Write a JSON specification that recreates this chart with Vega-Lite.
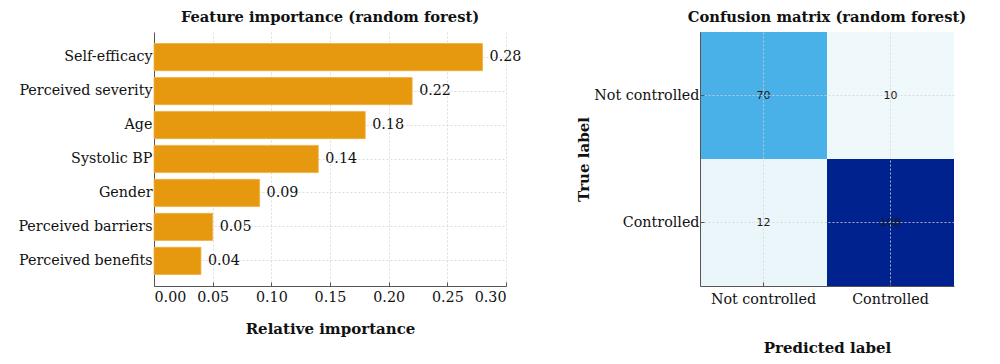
{
  "$schema": "https://vega.github.io/schema/vega-lite/v6.json",
  "padding": {"left": 17, "top": 10, "right": 5, "bottom": 5},
  "background": "white",
  "spacing": 194,
  "bounds": "flush",
  "config": {
    "view": {"stroke": null},
    "font": "DejaVu Serif",
    "title": {"font": "DejaVu Serif", "fontSize": 14.7, "fontWeight": "bold", "color": "#111", "offset": 7},
    "axis": {
      "labelFont": "DejaVu Serif", "labelFontSize": 14.3, "labelColor": "#111",
      "titleFont": "DejaVu Serif", "titleFontSize": 15, "titleFontWeight": "bold", "titleColor": "#111",
      "domainColor": "#555", "tickColor": "#555", "tickSize": -4,
      "gridColor": "#d4d4d4", "gridDash": [2, 2], "gridWidth": 0.8
    }
  },
  "hconcat": [
    {
      "title": "Feature importance (random forest)",
      "width": 352,
      "height": 254,
      "data": {"values": [
        {"feature": "Self-efficacy", "importance": 0.28},
        {"feature": "Perceived severity", "importance": 0.22},
        {"feature": "Age", "importance": 0.18},
        {"feature": "Systolic BP", "importance": 0.14},
        {"feature": "Gender", "importance": 0.09},
        {"feature": "Perceived barriers", "importance": 0.05},
        {"feature": "Perceived benefits", "importance": 0.04}
      ]},
      "encoding": {
        "y": {"field": "feature", "type": "nominal", "sort": null,
              "scale": {"paddingInner": 0.2, "paddingOuter": 0.34},
              "axis": {"title": null, "grid": true, "bandPosition": 0.5, "labelPadding": 6, "domainColor": "#555"}},
        "x": {"field": "importance", "type": "quantitative",
              "scale": {"domain": [0, 0.3], "nice": false},
              "axis": {"title": "Relative importance", "values": [0, 0.05, 0.1, 0.15, 0.2, 0.25, 0.3], "format": ".2f", "grid": true, "labelPadding": 8, "titlePadding": 17}}
      },
      "layer": [
        {"mark": {"type": "bar", "color": "#E6980E", "stroke": "#F0B040", "strokeWidth": 0.8}},
        {"mark": {"type": "text", "align": "left", "baseline": "middle", "dx": 7, "fontSize": 14.3, "font": "DejaVu Serif", "color": "#111"},
         "encoding": {"text": {"field": "importance", "type": "quantitative", "format": ".2f"}}}
      ]
    },
    {
      "title": "Confusion matrix (random forest)",
      "width": 254,
      "height": 254,
      "data": {"values": [
        {"true": "Not controlled", "predicted": "Not controlled", "count": 70},
        {"true": "Not controlled", "predicted": "Controlled", "count": 10},
        {"true": "Controlled", "predicted": "Not controlled", "count": 12},
        {"true": "Controlled", "predicted": "Controlled", "count": 108}
      ]},
      "encoding": {
        "x": {"field": "predicted", "type": "nominal", "sort": ["Not controlled", "Controlled"],
              "scale": {"paddingInner": 0, "paddingOuter": 0},
              "axis": {"title": "Predicted label", "labelAngle": 0, "grid": true, "bandPosition": 0.5, "zindex": 1, "labelPadding": 10, "titlePadding": 34}},
        "y": {"field": "true", "type": "nominal", "sort": ["Not controlled", "Controlled"],
              "scale": {"paddingInner": 0, "paddingOuter": 0},
              "axis": {"title": "True label", "grid": true, "bandPosition": 0.5, "zindex": 1, "labelPadding": 5, "titlePadding": 2}}
      },
      "layer": [
        {"mark": {"type": "rect"},
         "encoding": {"color": {"field": "count", "type": "quantitative",
                                "scale": {"domain": [10, 70, 108], "range": ["#EFF8FB", "#4AB0E8", "#00228E"]},
                                "legend": null}}},
        {"mark": {"type": "text", "font": "DejaVu Sans", "fontSize": 11, "color": "#1a1a1a", "baseline": "middle"},
         "encoding": {"text": {"field": "count", "type": "quantitative"}}}
      ]
    }
  ]
}
